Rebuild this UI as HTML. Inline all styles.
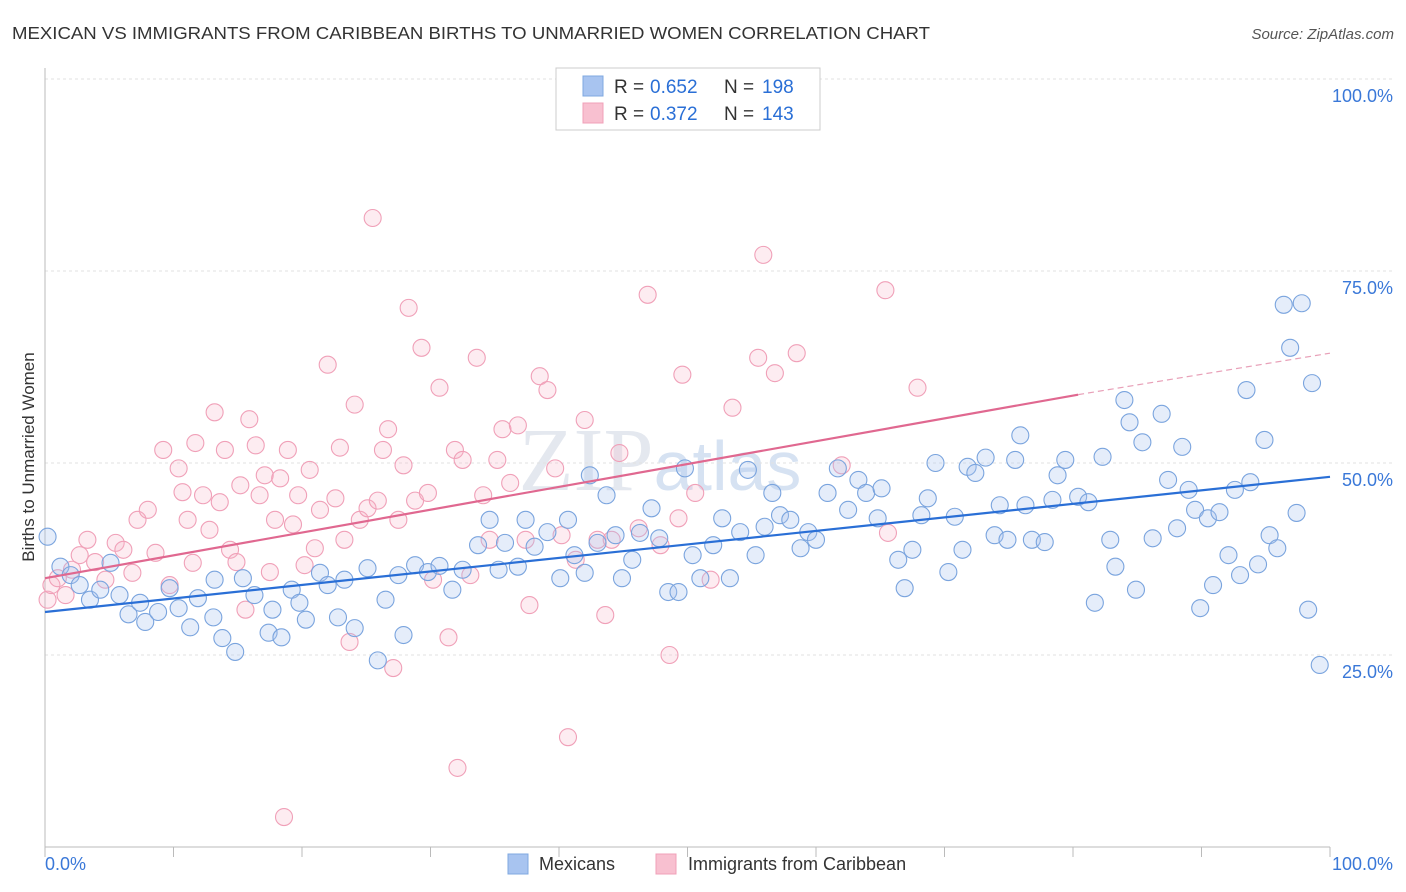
<!DOCTYPE html>
<html><head><meta charset="utf-8"><style>
body{margin:0;background:#fff;font-family:"Liberation Sans",sans-serif;}
svg{display:block}
</style></head><body>
<svg id="chart" width="1406" height="892">
<text x="12" y="39" font-size="17.5" fill="#333" textLength="918" lengthAdjust="spacingAndGlyphs">MEXICAN VS IMMIGRANTS FROM CARIBBEAN BIRTHS TO UNMARRIED WOMEN CORRELATION CHART</text>
<text x="1394" y="39" font-size="15" fill="#555" font-style="italic" text-anchor="end">Source: ZipAtlas.com</text>
<text x="660" y="490" font-size="90" fill="#e4e8ef" font-family="Liberation Serif,serif" text-anchor="middle">ZIP<tspan font-family="Liberation Sans,sans-serif" font-size="70" fill="#d6e2f2">atlas</tspan></text>
<g id="grid"></g><g id="axes"></g><g id="pink"></g><g id="blue"></g><g id="lines"></g>
<text transform="translate(34,457) rotate(-90)" font-size="17" fill="#333" text-anchor="middle">Births to Unmarried Women</text>
<g>
<rect x="556" y="68" width="264" height="62" fill="#fff" stroke="#ccc"/>
<rect x="583" y="76" width="20" height="20" fill="#a8c4f0" stroke="#7fa8e0"/>
<rect x="583" y="103" width="20" height="20" fill="#f8c0d0" stroke="#f0a0b8"/>
<text x="614" y="93" font-size="19" fill="#333">R =</text>
<text x="650" y="93" font-size="19" fill="#2a6fd6">0.652</text>
<text x="724" y="93" font-size="19" fill="#333">N =</text>
<text x="762" y="93" font-size="19" fill="#2a6fd6">198</text>
<text x="614" y="120" font-size="19" fill="#333">R =</text>
<text x="650" y="120" font-size="19" fill="#2a6fd6">0.372</text>
<text x="724" y="120" font-size="19" fill="#333">N =</text>
<text x="762" y="120" font-size="19" fill="#2a6fd6">143</text>
</g>
<g>
<rect x="508" y="854" width="20" height="20" fill="#a8c4f0" stroke="#7fa8e0"/>
<text x="539" y="870" font-size="18" fill="#333">Mexicans</text>
<rect x="656" y="854" width="20" height="20" fill="#f8c0d0" stroke="#f0a0b8"/>
<text x="688" y="870" font-size="18" fill="#333">Immigrants from Caribbean</text>
</g>
<text x="45" y="870" font-size="18" fill="#3a78d8">0.0%</text>
<text x="1393" y="870" font-size="18" fill="#3a78d8" text-anchor="end">100.0%</text>
</svg>
<script>
const yTicks=[25,50,75,100];
const yTickLabels=["25.0%","50.0%","75.0%","100.0%"];
const blueX=[0.2,1.2,2,2.7,3.5,4.3,5.1,5.8,6.5,7.4,7.8,8.8,9.7,10.4,11.3,11.9,13.1,13.2,13.8,14.8,15.4,16.3,17.4,17.7,18.4,19.2,19.8,20.3,21.4,22,22.8,23.3,24.1,25.1,25.9,26.5,27.5,27.9,28.8,29.8,30.7,31.7,32.5,33.7,34.6,35.3,35.8,36.8,37.4,38.1,39.1,40.1,40.7,41.2,42,42.4,43,43.7,44.4,44.9,45.7,46.3,47.2,47.8,48.5,49.3,49.8,50.4,51,52,52.7,53.3,54.1,54.7,55.3,56,56.6,57.2,58,58.8,59.4,60,60.9,61.7,62.5,63.3,63.9,64.8,65.1,66.4,66.9,67.5,68.2,68.7,69.3,70.3,70.8,71.4,71.8,72.4,73.2,73.9,74.3,74.9,75.5,75.9,76.3,76.8,77.8,78.4,78.8,79.4,80.4,81.2,81.7,82.3,82.9,83.3,84,84.4,84.9,85.4,86.2,86.9,87.4,88.1,88.5,89,89.5,89.9,90.5,90.9,91.4,92.1,92.6,93,93.5,93.8,94.4,94.9,95.3,95.9,96.4,96.9,97.4,97.8,98.3,98.6,99.2];
const blueY=[40.4,36.5,35.4,34.1,32.2,33.5,37,32.8,30.3,31.8,29.3,30.6,33.7,31.1,28.6,32.4,29.9,34.8,27.2,25.4,35,32.8,27.9,30.9,27.3,33.5,31.8,29.6,35.7,34.1,29.9,34.8,28.5,36.3,24.3,32.2,35.4,27.6,36.7,35.8,36.6,33.5,36.1,39.3,42.6,36.1,39.6,36.5,42.6,39.1,41,35,42.6,38,35.7,48.4,39.6,45.8,40.6,35,37.4,40.9,44.1,40.2,33.2,33.2,49.3,38,35,39.3,42.8,35,41,49.1,38,41.7,46.1,43.2,42.6,38.9,41,40,46.1,49.3,43.9,47.8,46.1,42.8,46.7,37.4,33.7,38.7,43.2,45.4,50,35.8,43,38.7,49.5,48.7,50.7,40.6,44.5,40,50.4,53.6,44.5,40,39.7,45.2,48.4,50.4,45.6,44.9,31.8,50.8,40,36.5,58.2,55.3,33.5,52.7,40.2,56.4,47.8,41.5,52.1,46.5,43.9,31.1,42.8,34.1,43.6,38,46.5,35.4,59.5,47.5,36.8,53,40.6,38.9,70.6,65,43.5,70.8,30.9,60.4,23.7];
const pinkX=[0.2,0.5,1,1.6,2.1,2.7,3.3,3.9,4.7,5.5,6.1,6.8,7.2,8,8.6,9.2,9.7,10.4,10.7,11.1,11.5,11.7,12.3,12.8,13.2,13.6,14,14.4,14.9,15.2,15.6,15.9,16.4,16.7,17.1,17.5,17.9,18.3,18.6,18.9,19.3,19.7,20.2,20.6,21,21.4,22,22.6,22.95,23.3,23.7,24.1,24.5,25.1,25.5,25.9,26.3,26.7,27.1,27.5,27.9,28.3,28.8,29.3,29.8,30.2,30.7,31.4,31.9,32.1,32.5,33.1,33.6,34.1,34.6,35.2,35.6,36.2,36.8,37.4,37.7,38.5,39.1,39.7,40.2,40.7,41.3,42,43,43.6,44.1,44.7,46.2,46.9,47.9,48.6,49.3,49.6,50.6,51.8,53.5,55.5,55.9,56.8,58.5,62,65.4,65.6,67.9];
const pinkY=[32.2,34.1,35,32.8,36.1,38,40,37.1,34.8,39.6,38.7,35.7,42.6,43.9,38.3,51.7,34.1,49.3,46.2,42.6,37,52.6,45.8,41.3,56.6,44.9,51.7,38.7,37.1,47.1,30.9,55.7,52.3,45.8,48.4,35.8,42.6,48,3.9,51.7,42,45.8,36.7,49.1,38.9,43.9,62.8,45.4,52,40,26.7,57.6,42.6,44.1,81.9,45.1,51.7,54.4,23.3,42.6,49.7,70.2,45.1,65,46.1,34.8,59.8,27.3,51.7,10.3,50.4,35.4,63.7,45.8,40,50.4,54.4,47.4,54.9,40,31.5,61.3,59.5,49.3,40.6,14.3,37.4,55.6,40,30.2,40,51.3,41.5,71.9,39.3,25,42.8,61.5,46.1,34.8,57.2,63.7,77.1,61.7,64.3,49.7,72.5,40.9,59.8];
const blueLineX=[0,100], blueLineY=[30.6,48.2];
const pinkLineX=[0,80.4], pinkLineY=[35.0,58.9];
const pinkDashX=[80.4,100], pinkDashY=[58.9,64.3];
const NS="http://www.w3.org/2000/svg";
const X=v=>45+v*12.85, Y=v=>847-v*7.68;
function mk(tag,attrs,parent){const e=document.createElementNS(NS,tag);for(const k in attrs)e.setAttribute(k,attrs[k]);document.getElementById(parent).appendChild(e);return e;}
yTicks.forEach((t,i)=>{
 const l=mk('line',{x1:45,x2:1393,y1:Y(t),y2:Y(t),stroke:'#e2e2e2','stroke-dasharray':'3,3'},'grid');
 
 
 const tx=mk('text',{x:1393,y:Y(t)+23,'font-size':18,fill:'#3a78d8','text-anchor':'end'},'grid');
 tx.textContent=yTickLabels[i];
 
 
});
const ax=mk('line',{x1:45,x2:1330,y1:847,y2:847,stroke:'#bbb'},'axes');


const ay=mk('line',{x1:45,x2:45,y1:68,y2:847,stroke:'#bbb'},'axes');


for(let i=0;i<=10;i++){const t=mk('line',{x1:X(i*10),x2:X(i*10),y1:847,y2:857,stroke:'#bbb'},'axes');
 
 }
pinkX.forEach((v,i)=>{const c=mk('circle',{cx:X(v),cy:Y(pinkY[i]),r:8.5,fill:'rgba(248,180,200,0.25)',stroke:'#f0a0b8','stroke-width':1.1},'pink');
 
 });
blueX.forEach((v,i)=>{const c=mk('circle',{cx:X(v),cy:Y(blueY[i]),r:8.5,fill:'rgba(168,196,240,0.3)',stroke:'#7aa4de','stroke-width':1.1},'blue');
 
 });
const bl=mk('line',{x1:X(blueLineX[0]),y1:Y(blueLineY[0]),x2:X(blueLineX[1]),y2:Y(blueLineY[1]),stroke:'#2a6fd6','stroke-width':2.2},'lines');


const pl=mk('line',{x1:X(pinkLineX[0]),y1:Y(pinkLineY[0]),x2:X(pinkLineX[1]),y2:Y(pinkLineY[1]),stroke:'#e06890','stroke-width':2.2},'lines');


const pd=mk('line',{x1:X(pinkDashX[0]),y1:Y(pinkDashY[0]),x2:X(pinkDashX[1]),y2:Y(pinkDashY[1]),stroke:'#e8a0b8','stroke-width':1.2,'stroke-dasharray':'6,4'},'lines');


</script>
</body></html>
